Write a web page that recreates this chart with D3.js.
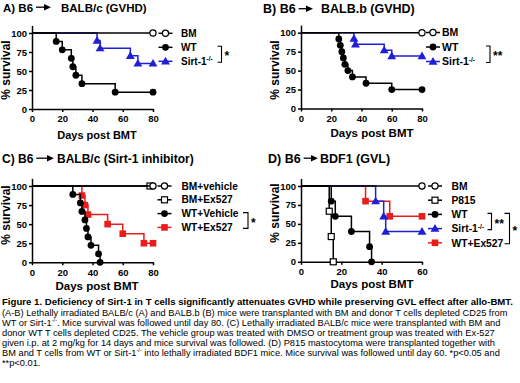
<!DOCTYPE html>
<html lang="en">
<head>
<meta charset="utf-8">
<title>Sirt-1 survival</title>
<script src="https://cdn.jsdelivr.net/npm/d3@7"></script>
<style>
  body { margin: 0; background: #fff; }
  svg text { font-family: "Liberation Sans", Arial, sans-serif; fill: #000; }
  .axis path, .axis line { stroke: #000; stroke-width: 1.5; }
  .axis text { font-weight: bold; font-size: 9.5px; }
  .b { font-weight: bold; }
</style>
</head>
<body>
<script>
// ---- data ----
var yTicks = [0, 25, 50, 75, 100];
var xTicks80 = [0, 20, 40, 60, 80];
var xTicks60 = [0, 20, 40, 60];

// A) B6 -> BALB/c (GVHD)
var aBmDays = [0, 80],   aBmSurv = [100, 100];
var aWtDays = [0, 16, 20, 26, 27, 29, 33, 55, 80];
var aWtSurv = [100, 88.9, 77.8, 66.7, 55.6, 44.4, 33.3, 22.2, 22.2];
var aSirtDays = [0, 43, 45, 65, 70, 80];
var aSirtSurv = [100, 90, 80, 70, 60, 60];
var aLabels = ["BM", "WT", "Sirt-1^-/-"];

// B) B6 -> BALB.b (GVHD)
var bBmDays = [0, 80],   bBmSurv = [100, 100];
var bWtDays = [0, 25, 26, 27, 28, 29, 31, 34, 43, 60, 80];
var bWtSurv = [100, 91.7, 83.3, 75, 66.7, 58.3, 50, 41.7, 33.3, 25, 25];
var bSirtDays = [0, 35, 36, 55, 60, 80];
var bSirtSurv = [100, 92.3, 84.6, 76.9, 69.2, 69.2];
var bLabels = ["BM", "WT", "Sirt-1^-/-"];

// C) B6 -> BALB/c (Sirt-1 inhibitor)
var cBmVehDays = [0, 80], cBmVehSurv = [100, 100];
var cBmExDays = [0, 78],  cBmExSurv = [100, 100];
var cWtVehDays = [0, 27, 32, 33, 35, 36, 37, 39, 44, 45];
var cWtVehSurv = [100, 88.9, 77.8, 66.7, 55.6, 44.4, 33.3, 22.2, 11.1, 0];
var cWtExDays = [0, 33, 35, 37, 50, 60, 74, 80];
var cWtExSurv = [100, 87.5, 75, 62.5, 50, 37.5, 25, 25];
var cLabels = ["BM+vehicle", "BM+Ex527", "WT+Vehicle", "WT+Ex527"];

// D) B6 -> BDF1 (GVL)
var dBmDays = [0, 60],   dBmSurv = [100, 100];
var dP815Days = [0, 14, 15, 16];
var dP815Surv = [100, 66.7, 33.3, 0];
var dWtDays = [0, 15, 17, 25, 34, 35];
var dWtSurv = [100, 80, 60, 40, 20, 0];
var dSirtDays = [0, 37, 41, 42, 60];
var dSirtSurv = [100, 80, 60, 40, 40];
var dWtExDays = [0, 32, 44, 60];
var dWtExSurv = [100, 80, 60, 60];
var dLabels = ["BM", "P815", "WT", "Sirt-1^-/-", "WT+Ex527"];

var captionTitle = "Figure 1. Deficiency of Sirt-1 in T cells significantly attenuates GVHD while preserving GVL effect after allo-BMT.";
var captionLines = [
  "(A-B) Lethally irradiated BALB/c (A) and BALB.b (B) mice were transplanted with BM and donor T cells depleted CD25 from",
  "WT or Sirt-1^-/-^. Mice survival was followed until day 80. (C) Lethally irradiated BALB/c mice were transplanted with BM and",
  "donor WT T cells depleted CD25. The vehicle group was treated with DMSO or treatment group was treated with Ex-527",
  "given i.p. at 2 mg/kg for 14 days and mice survival was followed. (D) P815 mastocytoma were transplanted together with",
  "BM and T cells from WT or Sirt-1^-/-^ into lethally irradiated BDF1 mice. Mice survival was followed until day 60. *p<0.05 and",
  "**p<0.01."
];

// ---- drawing ----
var BLACK = "#000", BLUE = "#1f1fd8", RED = "#ea1c1c";
var svg = d3.select("body").append("svg").attr("width", 520).attr("height", 383);

function richText(t, str, supSize) {
  // "^" toggles superscript
  var parts = str.split("^");
  parts.forEach(function (p, i) {
    if (p === "") return;
    var ts = t.append("tspan").text(p);
    if (i % 2 == 1) {
      ts.attr("dy", -3.5).attr("font-size", supSize);
    } else if (i > 0) {
      ts.attr("dy", 3.5);
    }
  });
}

function symbol(g, type, color, x, y) {
  if (type == "circleOpen") {
    g.append("circle").attr("cx", x).attr("cy", y).attr("r", 3.1)
      .attr("fill", "#fff").attr("stroke", color).attr("stroke-width", 1.2);
  } else if (type == "circle") {
    g.append("circle").attr("cx", x).attr("cy", y).attr("r", 3.4).attr("fill", color);
  } else if (type == "squareOpen") {
    g.append("rect").attr("x", x - 3).attr("y", y - 3).attr("width", 6).attr("height", 6)
      .attr("fill", "#fff").attr("stroke", color).attr("stroke-width", 1.2);
  } else if (type == "square") {
    g.append("rect").attr("x", x - 3.3).attr("y", y - 3.3).attr("width", 6.6).attr("height", 6.6).attr("fill", color);
  } else if (type == "triangle") {
    g.append("path").attr("transform", "translate(" + x + "," + (y + 0.6) + ")")
      .attr("d", d3.symbol().type(d3.symbolTriangle).size(34)()).attr("fill", color);
  }
}

function title(cfg) {
  var g = svg.append("g");
  var fs = cfg.fs;
  var t1 = g.append("text").attr("class", "b").attr("x", cfg.x).attr("y", cfg.base)
    .attr("font-size", fs).text(cfg.left);
  var a1 = Math.max(cfg.a1, cfg.x + t1.node().getComputedTextLength() + 3);
  g.append("line").attr("x1", a1).attr("x2", cfg.a2 - 5)
    .attr("y1", cfg.base - 4.3).attr("y2", cfg.base - 4.3)
    .attr("stroke", "#000").attr("stroke-width", 1.3);
  g.append("path").attr("d", "M" + cfg.a2 + "," + (cfg.base - 4.3) + "l-7,-3.2v6.4z").attr("fill", "#000");
  g.append("text").attr("class", "b").attr("x", cfg.tx).attr("y", cfg.base)
    .attr("font-size", fs).text(cfg.right);
}

function panel(cfg) {
  var g = svg.append("g");
  var x = d3.scaleLinear().domain([0, cfg.xMax]).range([cfg.left, cfg.right]);
  var unit = (cfg.bottom - cfg.top) / 100;
  var y = d3.scaleLinear().domain([0, 110]).range([cfg.bottom, cfg.bottom - 110 * unit]);

  g.append("g").attr("class", "axis")
    .attr("transform", "translate(0," + cfg.bottom + ")")
    .call(d3.axisBottom(x).tickValues(cfg.xTicks).tickSize(3).tickSizeOuter(0).tickPadding(3.5))
    .selectAll("text").attr("font-size", cfg.tickFs);
  g.append("g").attr("class", "axis")
    .attr("transform", "translate(" + cfg.left + ",0)")
    .call(d3.axisLeft(y).tickValues(yTicks).tickSize(3).tickSizeOuter(0).tickPadding(2))
    .selectAll("text").attr("font-size", cfg.tickFs);
  g.selectAll(".axis text").attr("font-family", null);

  g.append("text").attr("class", "b").attr("font-size", 12)
    .attr("text-anchor", "middle")
    .attr("transform", "translate(" + cfg.ylx + "," + cfg.yly + ") rotate(-90)")
    .text("% survival");
  g.append("text").attr("class", "b").attr("font-size", cfg.labFs)
    .attr("text-anchor", "middle").attr("x", cfg.xlx).attr("y", cfg.xly)
    .text("Days post BMT");

  var line = d3.line()
    .x(function (d) { return x(d[0]); })
    .y(function (d) { return y(d[1]); })
    .curve(d3.curveStepAfter);

  // draw last series first so the reference group ends on top
  cfg.series.slice().reverse().forEach(function (s) {
    var pts = d3.zip(s.days, s.surv);
    g.append("path").datum(pts).attr("d", line)
      .attr("fill", "none").attr("stroke", s.color).attr("stroke-width", 1.5);
    pts.slice(1).forEach(function (p) {
      symbol(g, s.sym, s.color, x(p[0]), y(p[1]));
    });
  });

  // legend
  cfg.series.forEach(function (s, i) {
    var ly = cfg.legY + i * cfg.legDy;
    g.append("line").attr("x1", cfg.legX - 7).attr("x2", cfg.legX + 7)
      .attr("y1", ly).attr("y2", ly).attr("stroke", s.color).attr("stroke-width", 1.5);
    symbol(g, s.sym, s.color, cfg.legX, ly);
    var t = g.append("text").attr("class", "b").attr("font-size", cfg.legFs)
      .attr("x", cfg.legTx).attr("y", ly + cfg.legFs * 0.36);
    richText(t, s.label, 6.5);
  });

  // significance brackets
  (cfg.brackets || []).forEach(function (b) {
    var y1 = cfg.legY + b.from * cfg.legDy, y2 = cfg.legY + b.to * cfg.legDy;
    g.append("path").attr("fill", "none").attr("stroke", "#000").attr("stroke-width", 1.1)
      .attr("d", "M" + (b.x - b.tick) + "," + (y1 - 1) + "H" + b.x + "V" + (y2 + 1) + "H" + (b.x - b.tick));
    g.append("text").attr("class", "b").attr("font-size", 12)
      .attr("x", b.x + 3).attr("y", (y1 + y2) / 2 + 6).text(b.star);
  });
}

title({ x: 3, base: 11.5, fs: 11.5, left: "A) B6", a1: 32, a2: 51, tx: 61, right: "BALB/c (GVHD)" });
title({ x: 263, base: 13, fs: 12.5, left: "B) B6", a1: 287, a2: 313, tx: 321, right: "BALB.b (GVHD)" });
title({ x: 2, base: 162.5, fs: 12, left: "C) B6", a1: 30, a2: 54, tx: 57, right: "BALB/c (Sirt-1 inhibitor)" });
title({ x: 268, base: 162.5, fs: 12.5, left: "D) B6", a1: 296, a2: 318, tx: 320, right: "BDF1 (GVL)" });

panel({
  xMax: 80, xTicks: xTicks80, left: 32, right: 153, top: 33, bottom: 109,
  tickFs: 9.5, labFs: 11, ylx: 9.5, yly: 70, xlx: 97, xly: 138.5,
  legX: 165.5, legTx: 181, legY: 33.3, legDy: 14, legFs: 10,
  series: [
    { days: aBmDays, surv: aBmSurv, sym: "circleOpen", color: BLACK, label: aLabels[0] },
    { days: aWtDays, surv: aWtSurv, sym: "circle", color: BLACK, label: aLabels[1] },
    { days: aSirtDays, surv: aSirtSurv, sym: "triangle", color: BLUE, label: aLabels[2] }
  ],
  brackets: [{ from: 1, to: 2, x: 221.5, tick: 4, star: "*" }]
});

panel({
  xMax: 80, xTicks: xTicks80, left: 301, right: 422, top: 32.7, bottom: 108.5,
  tickFs: 10, labFs: 11.5, ylx: 278.5, yly: 70, xlx: 372, xly: 136.5,
  legX: 433, legTx: 442, legY: 32.5, legDy: 14.5, legFs: 10.5,
  series: [
    { days: bBmDays, surv: bBmSurv, sym: "circleOpen", color: BLACK, label: bLabels[0] },
    { days: bWtDays, surv: bWtSurv, sym: "circle", color: BLACK, label: bLabels[1] },
    { days: bSirtDays, surv: bSirtSurv, sym: "triangle", color: BLUE, label: bLabels[2] }
  ],
  brackets: [{ from: 1, to: 2, x: 490, tick: 4, star: "**" }]
});

panel({
  xMax: 80, xTicks: xTicks80, left: 32, right: 153, top: 186, bottom: 262.3,
  tickFs: 9.5, labFs: 11.5, ylx: 9.5, yly: 215, xlx: 97, xly: 289.5,
  legX: 164.5, legTx: 181.5, legY: 186, legDy: 13.8, legFs: 10.2,
  series: [
    { days: cBmVehDays, surv: cBmVehSurv, sym: "circleOpen", color: BLACK, label: cLabels[0] },
    { days: cBmExDays, surv: cBmExSurv, sym: "squareOpen", color: BLACK, label: cLabels[1] },
    { days: cWtVehDays, surv: cWtVehSurv, sym: "circle", color: BLACK, label: cLabels[2] },
    { days: cWtExDays, surv: cWtExSurv, sym: "square", color: RED, label: cLabels[3] }
  ],
  brackets: [{ from: 2, to: 3, x: 248, tick: 5, star: "*" }]
});

panel({
  xMax: 60, xTicks: xTicks60, left: 301, right: 422, top: 186, bottom: 261.8,
  tickFs: 10, labFs: 11.5, ylx: 278.5, yly: 213, xlx: 372, xly: 288,
  legX: 435, legTx: 451.5, legY: 186, legDy: 14.2, legFs: 10.3,
  series: [
    { days: dBmDays, surv: dBmSurv, sym: "circleOpen", color: BLACK, label: dLabels[0] },
    { days: dP815Days, surv: dP815Surv, sym: "squareOpen", color: BLACK, label: dLabels[1] },
    { days: dWtDays, surv: dWtSurv, sym: "circle", color: BLACK, label: dLabels[2] },
    { days: dSirtDays, surv: dSirtSurv, sym: "triangle", color: BLUE, label: dLabels[3] },
    { days: dWtExDays, surv: dWtExSurv, sym: "square", color: RED, label: dLabels[4] }
  ],
  brackets: [
    { from: 2, to: 3, x: 491.5, tick: 4, star: "**" },
    { from: 2, to: 4, x: 509.5, tick: 5, star: "*" }
  ]
});

// caption
var cap = svg.append("g");
var ct = cap.append("text").attr("class", "b").attr("x", 2).attr("y", 305).attr("font-size", 9).text(captionTitle);
var wt = ct.node().getComputedTextLength();
ct.attr("font-size", 9 * 511 / wt);

var lines = captionLines.map(function (s, i) {
  var t = cap.append("text").attr("x", 2).attr("y", 316 + i * 9.9).attr("font-size", 8.5);
  richText(t, s, 5.5);
  return t;
});
var w0 = lines[0].node().getComputedTextLength();
var fs = 8.5 * 506 / w0;
lines.forEach(function (t) { t.attr("font-size", fs); });
</script>
</body>
</html>
